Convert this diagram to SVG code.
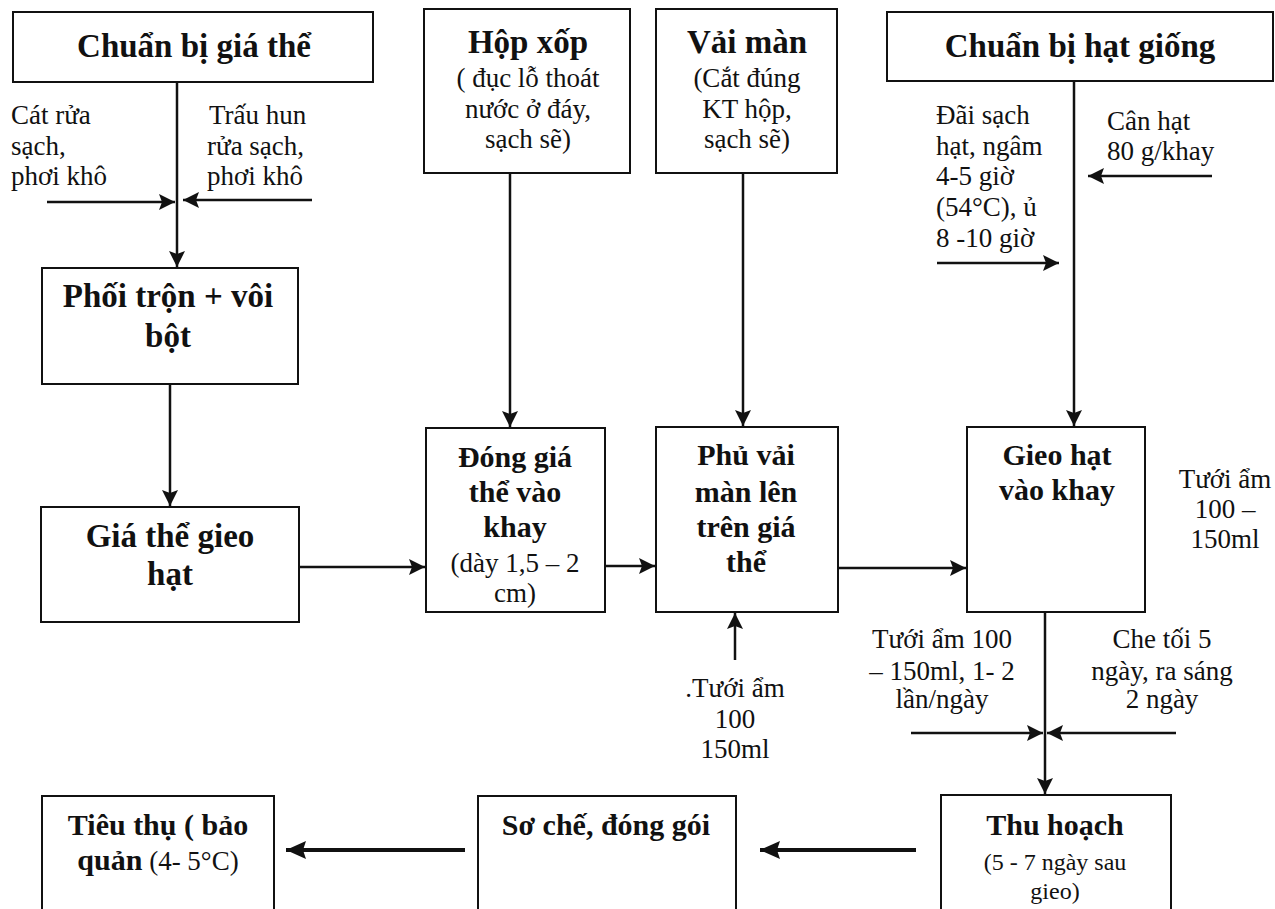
<svg xmlns="http://www.w3.org/2000/svg" width="1275" height="909" viewBox="0 0 1275 909">
<style>
.box{fill:#fff;stroke:#111;stroke-width:2}
.t{font-family:"Liberation Serif","Times New Roman",serif;fill:#111}
.b{font-weight:bold;font-size:33px}
.bm{font-weight:bold;font-size:30px}
.r{font-size:27px}
.s{font-size:24px}
.c{text-anchor:middle}
.ln{stroke:#111;stroke-width:2.5;fill:none}
.thick{stroke:#111;stroke-width:4;fill:none}
</style>
<defs>
<marker id="ah" markerUnits="userSpaceOnUse" markerWidth="18" markerHeight="18" refX="16" refY="8" orient="auto">
<path d="M0,0 L16,8 L0,16 L3,8 z" fill="#111"/>
</marker>
<marker id="ahb" markerUnits="userSpaceOnUse" markerWidth="22" markerHeight="20" refX="20" refY="9" orient="auto">
<path d="M0,0 L20,9 L0,18 L3,9 z" fill="#111"/>
</marker>
</defs>

<g id="connectors">
<line class="ln" x1="177" y1="82" x2="177" y2="267" marker-end="url(#ah)"/>
<line class="ln" x1="47" y1="202" x2="175" y2="202" marker-end="url(#ah)"/>
<line class="ln" x1="312" y1="200" x2="183" y2="200" marker-end="url(#ah)"/>
<line class="ln" x1="170" y1="384" x2="170" y2="506" marker-end="url(#ah)"/>
<line class="ln" x1="510" y1="173" x2="510" y2="427" marker-end="url(#ah)"/>
<line class="ln" x1="743" y1="173" x2="743" y2="426" marker-end="url(#ah)"/>
<line class="ln" x1="1074" y1="81" x2="1074" y2="426" marker-end="url(#ah)"/>
<line class="ln" x1="937" y1="263" x2="1059" y2="263" marker-end="url(#ah)"/>
<line class="ln" x1="1212" y1="176" x2="1088" y2="176" marker-end="url(#ah)"/>
<line class="ln" x1="299" y1="567" x2="425" y2="567" marker-end="url(#ah)"/>
<line class="ln" x1="605" y1="566" x2="655" y2="566" marker-end="url(#ah)"/>
<line class="ln" x1="838" y1="568" x2="966" y2="568" stroke-width="3.5" marker-end="url(#ah)"/>
<line class="ln" x1="735" y1="660" x2="735" y2="613" marker-end="url(#ah)"/>
<line class="ln" x1="1045" y1="612" x2="1045" y2="794" marker-end="url(#ah)"/>
<line class="ln" x1="911" y1="733" x2="1043" y2="733" marker-end="url(#ah)"/>
<line class="ln" x1="1176" y1="733" x2="1047" y2="733" marker-end="url(#ah)"/>
<line class="thick" x1="916" y1="850" x2="760" y2="850" marker-end="url(#ahb)"/>
<line class="thick" x1="465" y1="850" x2="286" y2="850" marker-end="url(#ahb)"/>
</g>

<g id="n-chuanbi-giathe">
<rect class="box" x="13" y="12" width="360" height="70"/>
<text class="t b c" x="194" y="57">Chuẩn bị giá thể</text>
</g>
<g id="lbl-cat">
<text class="t r" x="11" y="124">Cát rửa</text>
<text class="t r" x="11" y="155">sạch,</text>
<text class="t r" x="11" y="185">phơi khô</text>
</g>
<g id="lbl-trau">
<text class="t r" x="209" y="124">Trấu hun</text>
<text class="t r" x="207" y="155">rửa sạch,</text>
<text class="t r" x="207" y="185">phơi khô</text>
</g>
<g id="n-hopxop">
<rect class="box" x="424" y="9" width="206" height="164"/>
<text class="t b c" x="528" y="53">Hộp xốp</text>
<text class="t r c" x="528" y="87">( đục lỗ thoát</text>
<text class="t r c" x="528" y="118">nước ở đáy,</text>
<text class="t r c" x="528" y="148">sạch sẽ)</text>
</g>
<g id="n-vaiman">
<rect class="box" x="656" y="9" width="181" height="164"/>
<text class="t b c" x="747" y="53">Vải màn</text>
<text class="t r c" x="747" y="87">(Cắt đúng</text>
<text class="t r c" x="747" y="118">KT hộp,</text>
<text class="t r c" x="747" y="148">sạch sẽ)</text>
</g>
<g id="n-chuanbi-hatgiong">
<rect class="box" x="887" y="12" width="386" height="69"/>
<text class="t b c" x="1080" y="57">Chuẩn bị hạt giống</text>
</g>
<g id="lbl-dai">
<text class="t r" x="936" y="124">Đãi sạch</text>
<text class="t r" x="936" y="155">hạt, ngâm</text>
<text class="t r" x="936" y="185">4-5 giờ</text>
<text class="t r" x="936" y="216">(54°C), ủ</text>
<text class="t r" x="936" y="247">8 -10 giờ</text>
</g>
<g id="lbl-can">
<text class="t r" x="1107" y="130">Cân  hạt</text>
<text class="t r" x="1107" y="160">80 g/khay</text>
</g>
<g id="n-phoitron">
<rect class="box" x="42" y="268" width="256" height="116"/>
<text class="t b c" x="168" y="307">Phối trộn + vôi</text>
<text class="t b c" x="168" y="347">bột</text>
</g>
<g id="n-giathe">
<rect class="box" x="41" y="507" width="258" height="115"/>
<text class="t b c" x="170" y="547">Giá thể gieo</text>
<text class="t b c" x="170" y="585">hạt</text>
</g>
<g id="n-dong">
<rect class="box" x="426" y="428" width="179" height="184"/>
<text class="t bm c" x="515" y="467">Đóng  giá</text>
<text class="t bm c" x="515" y="502">thể vào</text>
<text class="t bm c" x="515" y="537">khay</text>
<text class="t r c" x="515" y="572">(dày 1,5 – 2</text>
<text class="t r c" x="515" y="602">cm)</text>
</g>
<g id="n-phu">
<rect class="box" x="656" y="427" width="182" height="185"/>
<text class="t bm c" x="746" y="465">Phủ vải</text>
<text class="t bm c" x="746" y="502">màn lên</text>
<text class="t bm c" x="746" y="537">trên giá</text>
<text class="t bm c" x="746" y="572">thể</text>
</g>
<g id="n-gieo">
<rect class="box" x="967" y="427" width="178" height="185"/>
<text class="t bm c" x="1057" y="465">Gieo hạt</text>
<text class="t bm c" x="1057" y="500">vào khay</text>
</g>
<g id="lbl-tuoi-right">
<text class="t r c" x="1225" y="488">Tưới ẩm</text>
<text class="t r c" x="1225" y="518">100 –</text>
<text class="t r c" x="1225" y="548">150ml</text>
</g>
<g id="lbl-tuoi-bottom">
<text class="t r c" x="735" y="697">.Tưới ẩm</text>
<text class="t r c" x="735" y="728">100</text>
<text class="t r c" x="735" y="758">150ml</text>
</g>
<g id="lbl-tuoi-2">
<text class="t r c" x="942" y="648">Tưới ẩm 100</text>
<text class="t r c" x="942" y="680">– 150ml, 1- 2</text>
<text class="t r c" x="942" y="708">lần/ngày</text>
</g>
<g id="lbl-che">
<text class="t r c" x="1162" y="648">Che tối 5</text>
<text class="t r c" x="1162" y="680">ngày, ra sáng</text>
<text class="t r c" x="1162" y="708">2 ngày</text>
</g>
<g id="n-tieuthu">
<rect class="box" x="42" y="796" width="232" height="140"/>
<text class="t bm c" x="158" y="835">Tiêu thụ ( bảo</text>
<text class="t c" x="158" y="870"><tspan class="bm">quản</tspan><tspan class="r"> (4- 5°C)</tspan></text>
</g>
<g id="n-soche">
<rect class="box" x="478" y="796" width="258" height="140"/>
<text class="t bm c" x="606" y="835">Sơ chế, đóng gói</text>
</g>
<g id="n-thuhoach">
<rect class="box" x="941" y="795" width="230" height="140"/>
<text class="t bm c" x="1055" y="835">Thu hoạch</text>
<text class="t s c" x="1055" y="870">(5 - 7 ngày sau</text>
<text class="t s c" x="1055" y="899">gieo)</text>
</g>
</svg>
